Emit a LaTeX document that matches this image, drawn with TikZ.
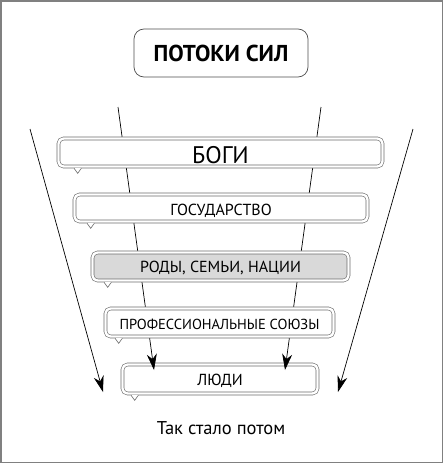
\documentclass[tikz,border=0pt]{standalone}
\usepackage{fontspec}
\setmainfont{PT Sans}
\usetikzlibrary{arrows.meta}
\definecolor{boxgray}{rgb}{0.42,0.42,0.42}
\definecolor{fillgray}{rgb}{0.85,0.85,0.85}
\definecolor{framegray}{rgb}{0.5,0.5,0.5}

\newcommand{\bubbletail}[2]{%
  \fill[white] ([xshift=#2-3.3pt,yshift=-0.7pt]#1.south west) rectangle ([xshift=#2+3.3pt,yshift=-2.4pt]#1.south west);
  \draw[boxgray,line width=0.6pt] ([xshift=#2-3.6pt,yshift=-1.55pt]#1.south west) -- ++(3.6pt,-5pt) -- ++(3.6pt,5pt);}

\begin{document}
\begin{tikzpicture}
  [x=1pt,y=-1pt,
   bubble/.style={draw=boxgray,line width=0.6pt,double=white,double distance=2.4pt,rounded corners=5pt,fill=white,inner sep=0pt,minimum height=28pt,text depth=0pt},
   flow/.style={-{Stealth[length=16pt,width=10pt,inset=5pt]},line width=0.7pt,black}]

  \useasboundingbox (0,0) rectangle (443,463);
  \draw[framegray,line width=1.5pt] (0.75,0.75) rectangle (442.25,462.25);

  \node[style={rectangle,draw=black!70,line width=0.7pt,rounded corners=10pt,minimum width=174pt,minimum height=48pt,inner sep=0pt}] (title) at (221,53) {\fontsize{23}{26}\selectfont\bfseries ПОТОКИ СИЛ};

  \node[bubble,minimum width=195pt,minimum height=29pt,text height=13pt] (people) at (220,379) {\fontsize{16}{18}\selectfont ЛЮДИ};

  \coordinate (outL) at (30,129);
  \coordinate (outLend) at (103,392);
  \coordinate (inL) at (118,107);
  \coordinate (inLend) at (154,370);
  \coordinate (inR) at (321,107);
  \coordinate (inRend) at (285,370);
  \coordinate (outR) at (413,129);
  \coordinate (outRend) at (338,392);
  \foreach \from/\to in {outL/outLend,inL/inLend,inR/inRend,outR/outRend}
    \draw[flow] (\from) -- (\to);

  \node[bubble,minimum width=324pt,text height=21.5pt] (gods) at (220.5,152.5) {\fontsize{24}{27}\selectfont БОГИ};
  \node[bubble,minimum width=293pt,minimum height=27pt,text height=15.5pt] (state) at (221,208) {\fontsize{16}{18}\selectfont ГОСУДАРСТВО};
  \node[bubble,fill=fillgray,minimum width=256pt,text height=11.5pt] (clans) at (220.5,266.5) {\fontsize{16}{18}\selectfont РОДЫ, СЕМЬИ, НАЦИИ};
  \node[bubble,minimum width=228pt,text height=13pt] (unions) at (219.5,322.5) {\fontsize{14.5}{17}\selectfont ПРОФЕССИОНАЛЬНЫЕ СОЮЗЫ};

  \bubbletail{gods}{19.5pt}
  \bubbletail{state}{16.5pt}
  \bubbletail{clans}{15.5pt}
  \bubbletail{unions}{13.5pt}
  \bubbletail{people}{12.5pt}

  \node (caption) at (221,428) {\fontsize{18.5}{21}\selectfont Так стало потом};
\end{tikzpicture}
\end{document}
